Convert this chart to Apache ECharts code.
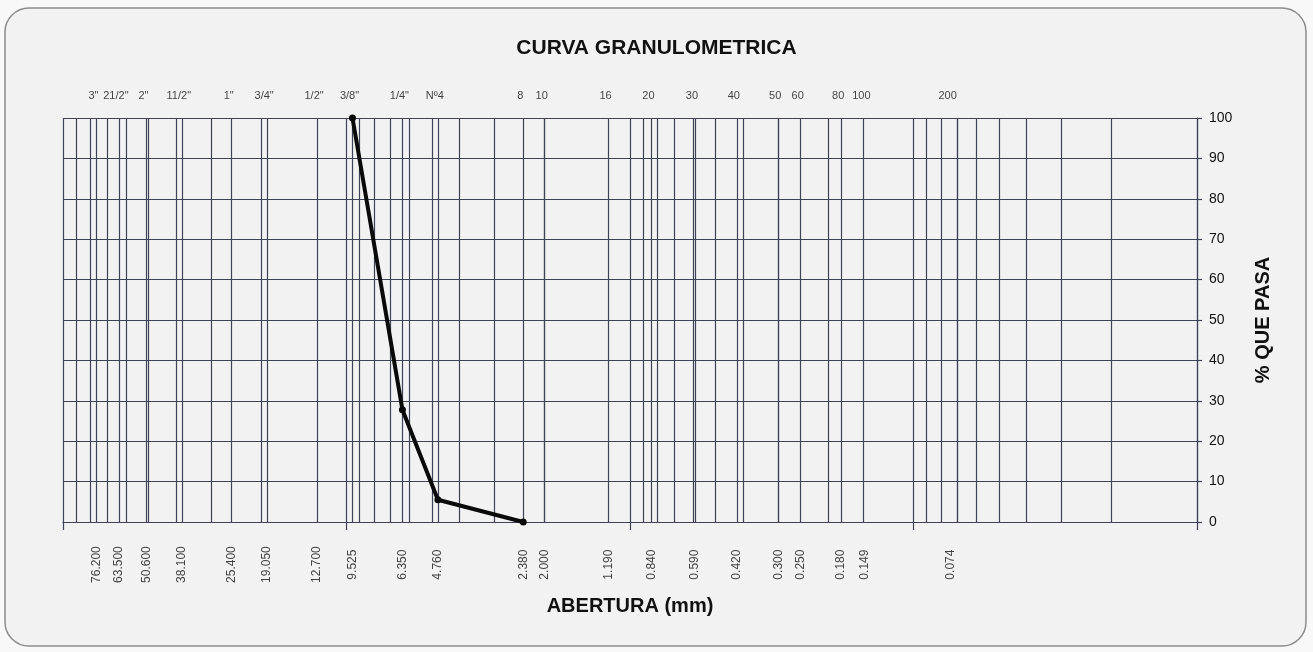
<!DOCTYPE html>
<html>
<head>
<meta charset="utf-8">
<script src="https://cdn.jsdelivr.net/npm/echarts@6/dist/echarts.min.js"></script>
<style>
html,body{margin:0;padding:0;background:#f8f8f8;}
#c{width:1313px;height:652px;}
</style>
</head>
<body>
<div id="c"></div>
<script>
// Sieve designations (top labels) and openings in mm
const sieveNames = ['3"', '21/2"', '2"', '11/2"', '1"', '3/4"', '1/2"', '3/8"', '1/4"', 'Nº4', '8', '10', '16', '20', '30', '40', '50', '60', '80', '100', '200'];
const sieveMm = [76.2, 63.5, 50.8, 38.1, 25.4, 19.05, 12.7, 9.525, 6.35, 4.76, 2.38, 2.0, 1.19, 0.84, 0.59, 0.42, 0.30, 0.25, 0.18, 0.149, 0.074];
const sieveMmLabels = ['76.200', '63.500', '50.600', '38.100', '25.400', '19.050', '12.700', '9.525', '6.350', '4.760', '2.380', '2.000', '1.190', '0.840', '0.590', '0.420', '0.300', '0.250', '0.180', '0.149', '0.074'];

// Grain size curve
const curveMm = [9.525, 6.35, 4.76, 2.38];
const curvePass = [100, 27.8, 5.5, 0];

// Log paper grid: 1..9 x 10^k
const gridMultipliers = [1, 2, 3, 4, 5, 6, 7, 8, 9];
const gridDecades = [0.01, 0.1, 1, 10];
const logGrid = [100];
gridDecades.forEach(d => gridMultipliers.forEach(m => logGrid.push(+(m * d).toPrecision(6))));
const verticalLines = logGrid.concat(sieveMm);

const GRID_COLOR = '#3f4357';
const FONT = "'Liberation Sans', Arial, sans-serif";

const chart = echarts.init(document.getElementById('c'), null, {renderer: 'canvas'});
chart.setOption({
  animation: false,
  backgroundColor: '#f8f8f8',
  graphic: [{
    type: 'rect',
    z: -10,
    silent: true,
    shape: {x: 5, y: 8, width: 1301, height: 638, r: 24},
    style: {fill: '#f2f2f2', stroke: '#8c8c8c', lineWidth: 1.5}
  }],
  title: {
    text: 'CURVA GRANULOMETRICA',
    left: 'center',
    top: 33,
    textStyle: {fontFamily: FONT, fontSize: 21, fontWeight: 'bold', color: '#111'}
  },
  grid: {left: 63, right: 116, top: 118, bottom: 130},
  xAxis: {
    type: 'log',
    logBase: 10,
    min: 0.01,
    max: 100,
    inverse: true,
    name: 'ABERTURA (mm)',
    nameLocation: 'middle',
    nameGap: 74,
    nameTextStyle: {fontFamily: FONT, fontSize: 20, fontWeight: 'bold', color: '#111'},
    axisLine: {show: true, lineStyle: {color: GRID_COLOR, width: 1.2}},
    axisTick: {show: true, length: 8, lineStyle: {color: GRID_COLOR, width: 1.2}},
    axisLabel: {show: false},
    splitLine: {show: false},
    minorTick: {show: false}
  },
  yAxis: {
    type: 'value',
    position: 'right',
    min: 0,
    max: 100,
    interval: 10,
    name: '% QUE PASA',
    nameLocation: 'middle',
    nameRotate: 90,
    nameGap: 56,
    nameTextStyle: {fontFamily: FONT, fontSize: 20, fontWeight: 'bold', color: '#111'},
    axisLine: {show: true, lineStyle: {color: GRID_COLOR, width: 1.2}},
    axisTick: {show: true, length: 5, lineStyle: {color: GRID_COLOR, width: 1.2}},
    axisLabel: {fontFamily: FONT, fontSize: 14, color: '#111', margin: 12},
    splitLine: {show: true, lineStyle: {color: GRID_COLOR, width: 1.2, type: 'solid'}}
  },
  series: [
    {
      type: 'line',
      data: [],
      silent: true,
      markLine: {
        silent: true,
        symbol: 'none',
        animation: false,
        label: {show: false},
        lineStyle: {color: GRID_COLOR, width: 1.2, type: 'solid'},
        emphasis: {disabled: true},
        data: verticalLines.map(v => ({xAxis: v}))
      }
    },
    {
      // sieve designations above the chart
      type: 'scatter',
      clip: false,
      silent: true,
      symbolSize: 1,
      itemStyle: {color: 'rgba(0,0,0,0)'},
      data: sieveMm.map((v, i) => ({value: [v, 105.5], name: sieveNames[i]})),
      label: {
        show: true,
        position: 'inside',
        offset: [-3, 0],
        formatter: p => p.name,
        fontFamily: FONT,
        fontSize: 11,
        color: '#111'
      }
    },
    {
      // openings in mm below the chart
      type: 'scatter',
      clip: false,
      silent: true,
      symbolSize: 1,
      itemStyle: {color: 'rgba(0,0,0,0)'},
      data: sieveMm.map((v, i) => ({value: [v, -10.3], name: sieveMmLabels[i]})),
      label: {
        show: true,
        position: 'inside',
        rotate: 90,
        offset: [-1, 0],
        formatter: p => p.name,
        fontFamily: FONT,
        fontSize: 12,
        color: '#111'
      }
    },
    {
      type: 'line',
      z: 10,
      data: curveMm.map((v, i) => [v, curvePass[i]]),
      symbol: 'circle',
      symbolSize: 7,
      lineStyle: {color: '#0a0a0a', width: 4},
      itemStyle: {color: '#0a0a0a'}
    }
  ]
});
</script>
</body>
</html>
